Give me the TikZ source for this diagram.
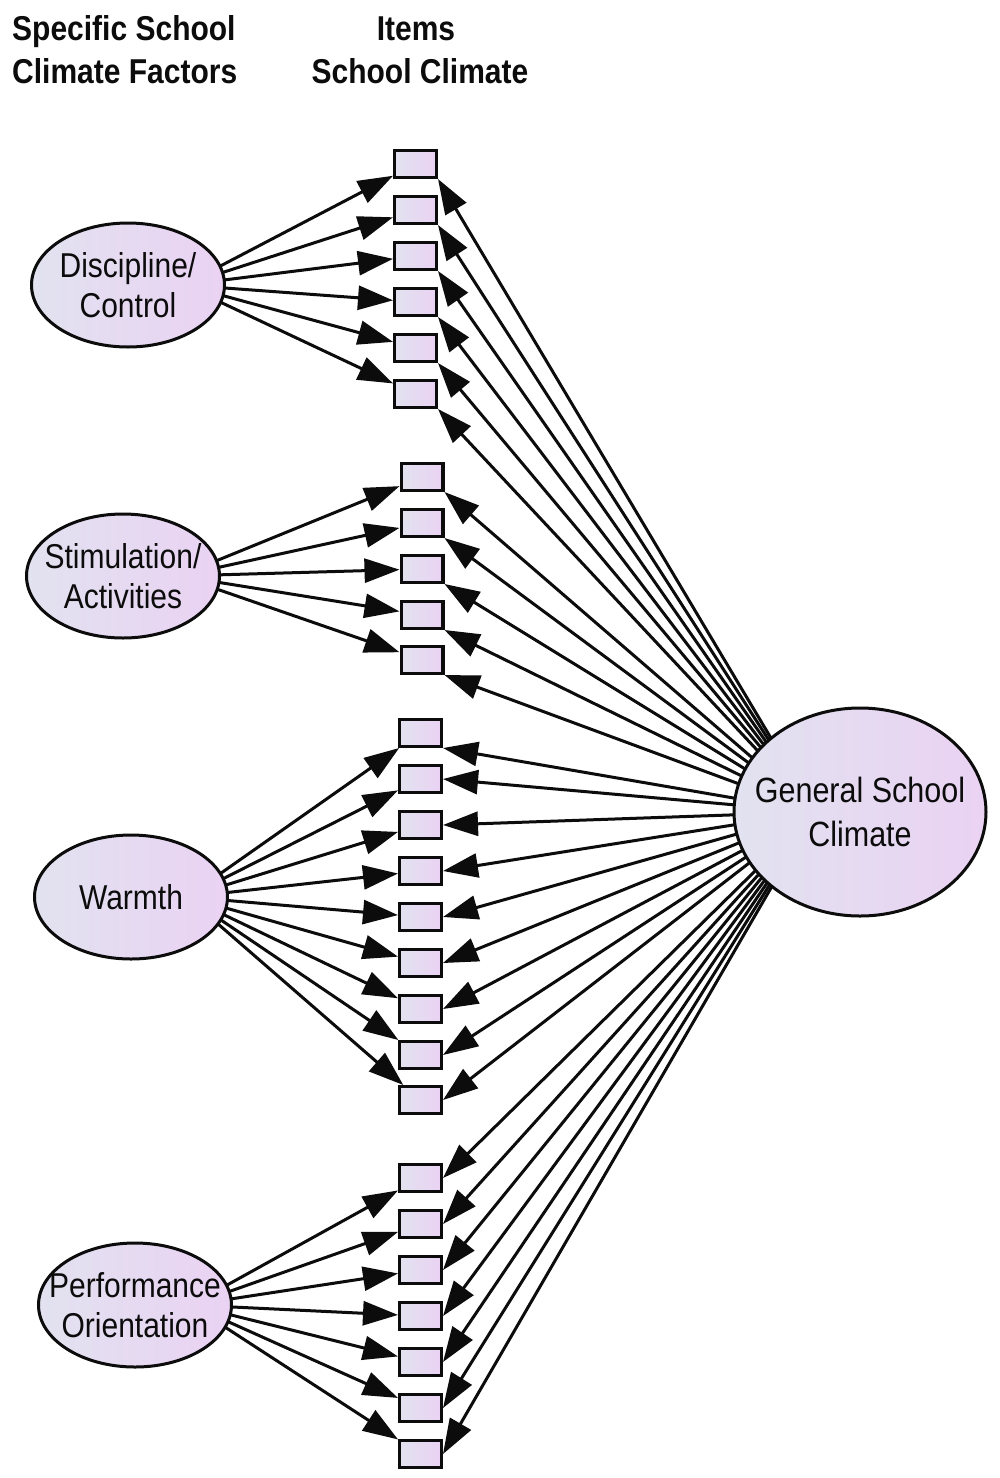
\documentclass[tikz,border=0pt]{standalone}
\usepackage{fontspec}
\setmainfont{Liberation Sans}
\usetikzlibrary{shapes.geometric,arrows.meta}
\definecolor{fillL}{RGB}{226,226,240}
\definecolor{fillR}{RGB}{234,210,243}
\definecolor{ink}{RGB}{12,12,12}
\newcommand{\vstretch}[1]{\scalebox{1}[1.15]{#1}}
\begin{document}
\begin{tikzpicture}[x=1pt,y=-1pt,
  item/.style={draw=ink, line width=3.2pt, rectangle, minimum width=41.8pt,
    minimum height=26.8pt, inner sep=0pt, left color=fillL, right color=fillR},
  factor/.style={draw=ink, line width=3pt, ellipse, minimum width=193pt,
    minimum height=124pt, inner sep=0pt, left color=fillL, right color=fillR},
  general/.style={factor, minimum width=252pt, minimum height=208pt},
  lab/.style={inner sep=0pt, align=center, text=ink, font=\fontsize{30}{40}\selectfont},
  glab/.style={lab, font=\fontsize{30.5}{44}\selectfont},
  head/.style={inner sep=0pt, text=ink, font=\fontsize{30}{36}\selectfont\bfseries},
  arr/.style={draw=ink, line width=3pt, -{Triangle[length=35pt,width=24pt]}}
]
\useasboundingbox (0,0) rectangle (1000,1478);
\fill[white] (0,0) rectangle (1000,1478);

% headers
\node[head, anchor=base west] (h1) at (12,40) {\vstretch{Specific School}};
\node[head, anchor=base west] (h2) at (12,83) {\vstretch{Climate Factors}};
\node[head, anchor=base] (h3) at (416,40) {\vstretch{Items}};
\node[head, anchor=base] (h4) at (420,83) {\vstretch{School Climate}};

% items
\foreach \y [count=\i] in {164,210,256,302,348,394}
  \node[item] (a\i) at (415.5,\y) {};
\foreach \y [count=\i] in {477,523,569,615,660}
  \node[item] (b\i) at (422,\y) {};
\foreach \y [count=\i] in {733,779,825,871,917,963,1009,1055,1100}
  \node[item] (c\i) at (420.5,\y) {};
\foreach \y [count=\i] in {1178,1224,1270,1316,1362,1408,1454}
  \node[item] (d\i) at (420.5,\y) {};

% origins of the paths, hidden under the ellipses
\coordinate (dcP) at (184,285);
\coordinate (saP) at (179,576);
\coordinate (waP) at (187,897);
\coordinate (poP) at (191,1305);
\coordinate (gscP) at (815,812);

% specific factor loadings
\foreach \i in {1,...,6} \draw[arr] (dcP) -- (a\i);
\foreach \i in {1,...,5} \draw[arr] (saP) -- (b\i);
\foreach \i in {1,...,9} \draw[arr] (waP) -- (c\i);
\foreach \i in {1,...,7} \draw[arr] (poP) -- (d\i);

% general factor loadings
\foreach \i in {1,...,6} \draw[arr] (gscP) -- (a\i.south east);
\foreach \i in {1,...,5} \draw[arr] (gscP) -- (b\i.south east);
\draw[arr] (gscP) -- (c1.south east);
\foreach \i in {2,...,9} \draw[arr] (gscP) -- (c\i.east);
\foreach \i in {1,...,7} \draw[arr] (gscP) -- (d\i.east);

% factors (drawn last so that they cover the starts of the paths)
\node[factor] (dc) at (128,285) {};
\node[lab] (dcl) at (dc) {\vstretch{Discipline/}\\\vstretch{Control}};
\node[factor] (sa) at (123,576) {};
\node[lab] (sal) at (sa) {\vstretch{Stimulation/}\\\vstretch{Activities}};
\node[factor] (wa) at (131,897) {};
\node[lab] (wal) at (wa) {\vstretch{Warmth}};
\node[factor] (po) at (135,1305) {};
\node[lab] (pol) at (po) {\vstretch{Performance}\\\vstretch{Orientation}};
\node[general] (gsc) at (860,812) {};
\node[glab] (gscl) at (gsc) {\vstretch{General School}\\\vstretch{Climate}};
\end{tikzpicture}
\end{document}
